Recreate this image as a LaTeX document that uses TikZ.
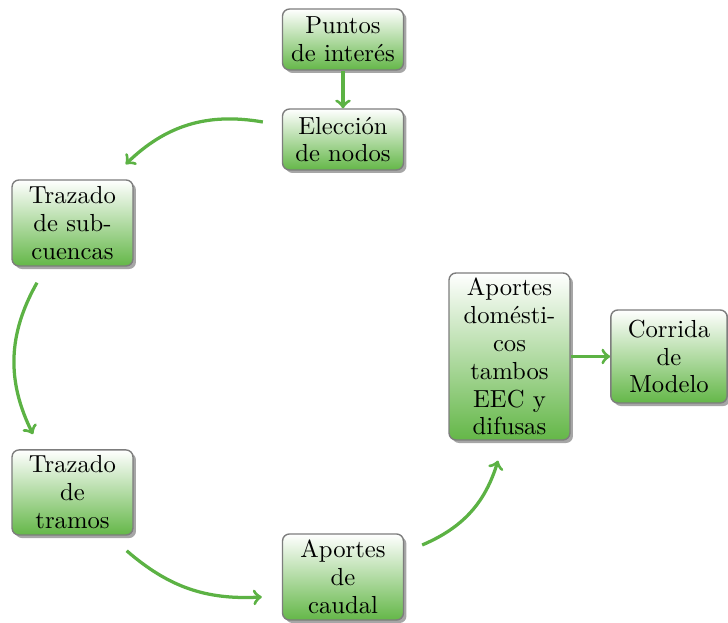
\documentclass[tikz,border=0pt]{standalone}
\usetikzlibrary{shadows}
\definecolor{boxgreen}{RGB}{100,183,72}
\definecolor{arrgreen}{RGB}{92,178,68}
\definecolor{boxborder}{RGB}{125,125,125}
\tikzset{
  stepbox/.style={draw=boxborder, line width=0.6pt, rounded corners=3pt,
    top color=white, bottom color=boxgreen, align=center,
    text width=46pt, inner xsep=3pt, inner ysep=1.5pt,
    drop shadow={shadow xshift=1.3pt, shadow yshift=-1.3pt, fill=black, opacity=0.35},
    font=\fontsize{10.6}{12}\selectfont},
  flow/.style={draw=arrgreen, line width=1.4pt, ->}
}
\begin{document}
\begin{tikzpicture}[x=0.43pt, y=-0.43pt]
\useasboundingbox (0,0) rectangle (728,623);
\node[stepbox, minimum height=26.2pt] (puntos) at (343,39.5) {Puntos\\de interés};
\node[stepbox, minimum height=26.2pt] (elec) at (343,139.5) {Elección\\de nodos};
\node[stepbox, minimum height=37pt] (sub) at (72.5,223) {Trazado\\de sub-\\cuencas};
\node[stepbox, minimum height=36.6pt] (tramos) at (72.5,492.5) {Trazado\\de\\tramos};
\node[stepbox, minimum height=37pt] (caudal) at (343,577) {Aportes\\de\\caudal};
\node[stepbox, minimum height=71.8pt] (dom) at (509.5,356.5) {Aportes\\domésti-\\cos\\tambos\\EEC y\\difusas};
\node[stepbox, text width=44pt, minimum height=40pt] (corrida) at (669,356.5) {Corrida\\de\\Modelo};

\draw[flow] (puntos.south) -- (elec.north);
\draw[flow] ([shift={(-19,-17.5)}]elec.west) to[bend right=27] ([shift={(-8,-15)}]sub.north east);
\draw[flow] ([shift={(-35.5,16)}]sub.south) to[bend right=28] ([shift={(-39.5,-15)}]tramos.north);
\draw[flow] ([shift={(-7,15)}]tramos.south east) to[bend right=22] ([shift={(-20,20)}]caudal.west);
\draw[flow] ([shift={(18,-32)}]caudal.east) to[bend right=25] ([shift={(-11.5,20)}]dom.south);
\draw[flow] (dom.east) -- (corrida.west);
\end{tikzpicture}
\end{document}
